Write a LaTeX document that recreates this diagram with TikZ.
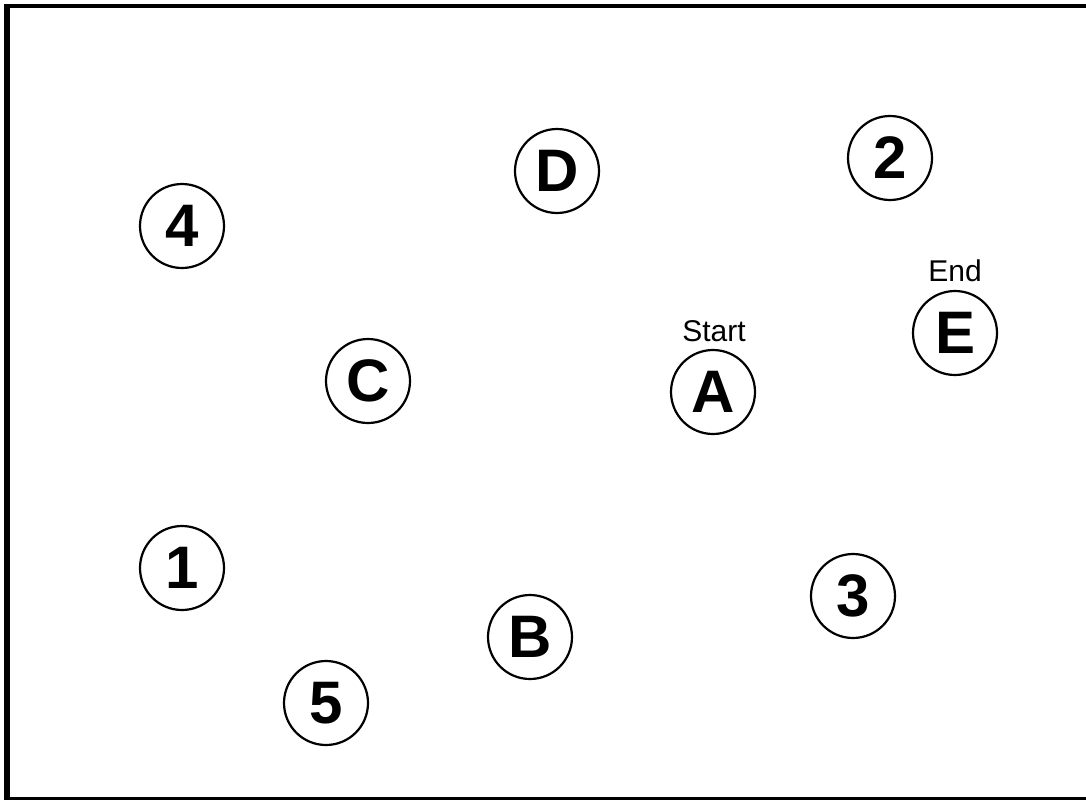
\documentclass[tikz,border=0pt]{standalone}
\usepackage{fontspec}
\setmainfont{Liberation Sans}
\begin{document}
\begin{tikzpicture}[x=1pt,y=-1pt,
  stop/.style={circle,draw,line width=2.2pt,minimum size=84pt,inner sep=0pt,font=\fontsize{60}{60}\selectfont\bfseries},
  tag/.style={font=\fontsize{30}{30}\selectfont}]
\useasboundingbox (0,0) rectangle (1086,800);
\clip (0,0) rectangle (1086,800);
\fill[white] (0,0) rectangle (1086,800);
\draw[line width=2.5pt] (7,6) rectangle (1095,798.5);
\draw[line width=4.5pt] (4.5,6) -- (1095,6);
\draw[line width=6pt] (7,4) -- (7,800);
\node[stop] (n4) at (182,226) {4};
\node[stop] (nD) at (557,171) {D};
\node[stop] (n2) at (890,158) {2};
\node[stop] (nE) at (955,333) {E};
\node[tag] (lE) at (955,271) {End};
\node[stop] (nA) at (713,392) {A};
\node[tag] (lA) at (714,331) {Start};
\node[stop] (nC) at (368,381) {C};
\node[stop] (n1) at (182,568) {1};
\node[stop] (n3) at (853,596) {3};
\node[stop] (nB) at (530,637) {B};
\node[stop] (n5) at (326,703) {5};
\end{tikzpicture}
\end{document}
